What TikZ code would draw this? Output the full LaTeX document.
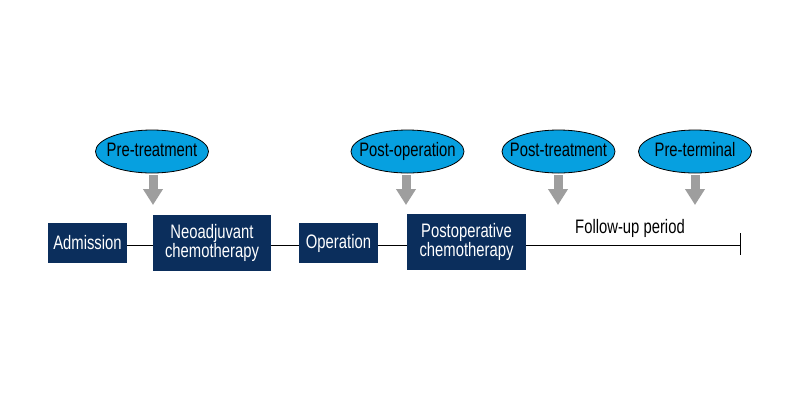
\documentclass[tikz,border=0pt]{standalone}
\usepackage{fontspec}
\setmainfont{Liberation Sans}[FakeStretch=0.76]
\usetikzlibrary{arrows.meta,shapes.geometric}
\definecolor{navy}{RGB}{11,46,92}
\definecolor{skyb}{RGB}{6,160,224}
\definecolor{arrgray}{RGB}{158,158,158}
\newcommand{\zw}[1]{\makebox[0pt]{#1}}
\tikzset{
  box/.style={fill=navy,text=white,font=\fontsize{19.5}{19}\selectfont,align=center,inner sep=0pt,minimum height=#1},
  box/.default=40pt,
  phase/.style={ellipse,draw=black,line width=0.8pt,fill=skyb,text=black,minimum width=113pt,minimum height=43pt,inner sep=0pt,text height=14pt,text depth=4pt,font=\fontsize{19.5}{19}\selectfont},
  down/.style={draw=arrgray,line width=9pt,-{Triangle[width=19pt,length=16pt]}},
  tl/.style={draw=black,line width=0.8pt}
}
\begin{document}
\begin{tikzpicture}[x=1pt,y=-1pt]
\useasboundingbox (0,0) rectangle (800,400);
\node[box=40pt,minimum width=79pt] (adm) at (87.5,242.5) {Admission};
\node[box=56pt,minimum width=118pt] (neo) at (212,242.5) {Neoadjuvant\\chemotherapy};
\node[box=40pt,minimum width=79pt] (op) at (338.5,243) {Operation};
\node[box=56pt,minimum width=119pt] (post) at (466.5,242) {Postoperative\\chemotherapy};
\coordinate (endp) at (740,245);
\coordinate (tt) at (740,233);
\coordinate (tb) at (740,255);
\draw[tl] (adm.east |- 0,245) -- (neo.west |- 0,245);
\draw[tl] (neo.east |- 0,245) -- (op.west |- 0,245);
\draw[tl] (op.east |- 0,245) -- (post.west |- 0,245);
\draw[tl] (post.east |- 0,245) -- (endp);
\draw[tl] (tt) -- (tb);
\node[font=\fontsize{19.5}{19}\selectfont] (fu) at (630,228) {Follow-up period};
\node[phase] (e1) at (152,151.5) {\zw{Pre-treatment}};
\node[phase] (e2) at (407.5,151.5) {\zw{Post-operation}};
\node[phase] (e3) at (558.5,151.5) {\zw{Post-treatment}};
\node[phase] (e4) at (695,151.5) {\zw{Pre-terminal}};
\coordinate (a1) at (153,205);
\coordinate (a2) at (406,205);
\coordinate (a3) at (558,205);
\coordinate (a4) at (695,205);
\draw[down] (e1.south -| a1) ++(0,2) -- (a1);
\draw[down] (e2.south -| a2) ++(0,2) -- (a2);
\draw[down] (e3.south -| a3) ++(0,2) -- (a3);
\draw[down] (e4.south -| a4) ++(0,2) -- (a4);
\end{tikzpicture}
\end{document}
